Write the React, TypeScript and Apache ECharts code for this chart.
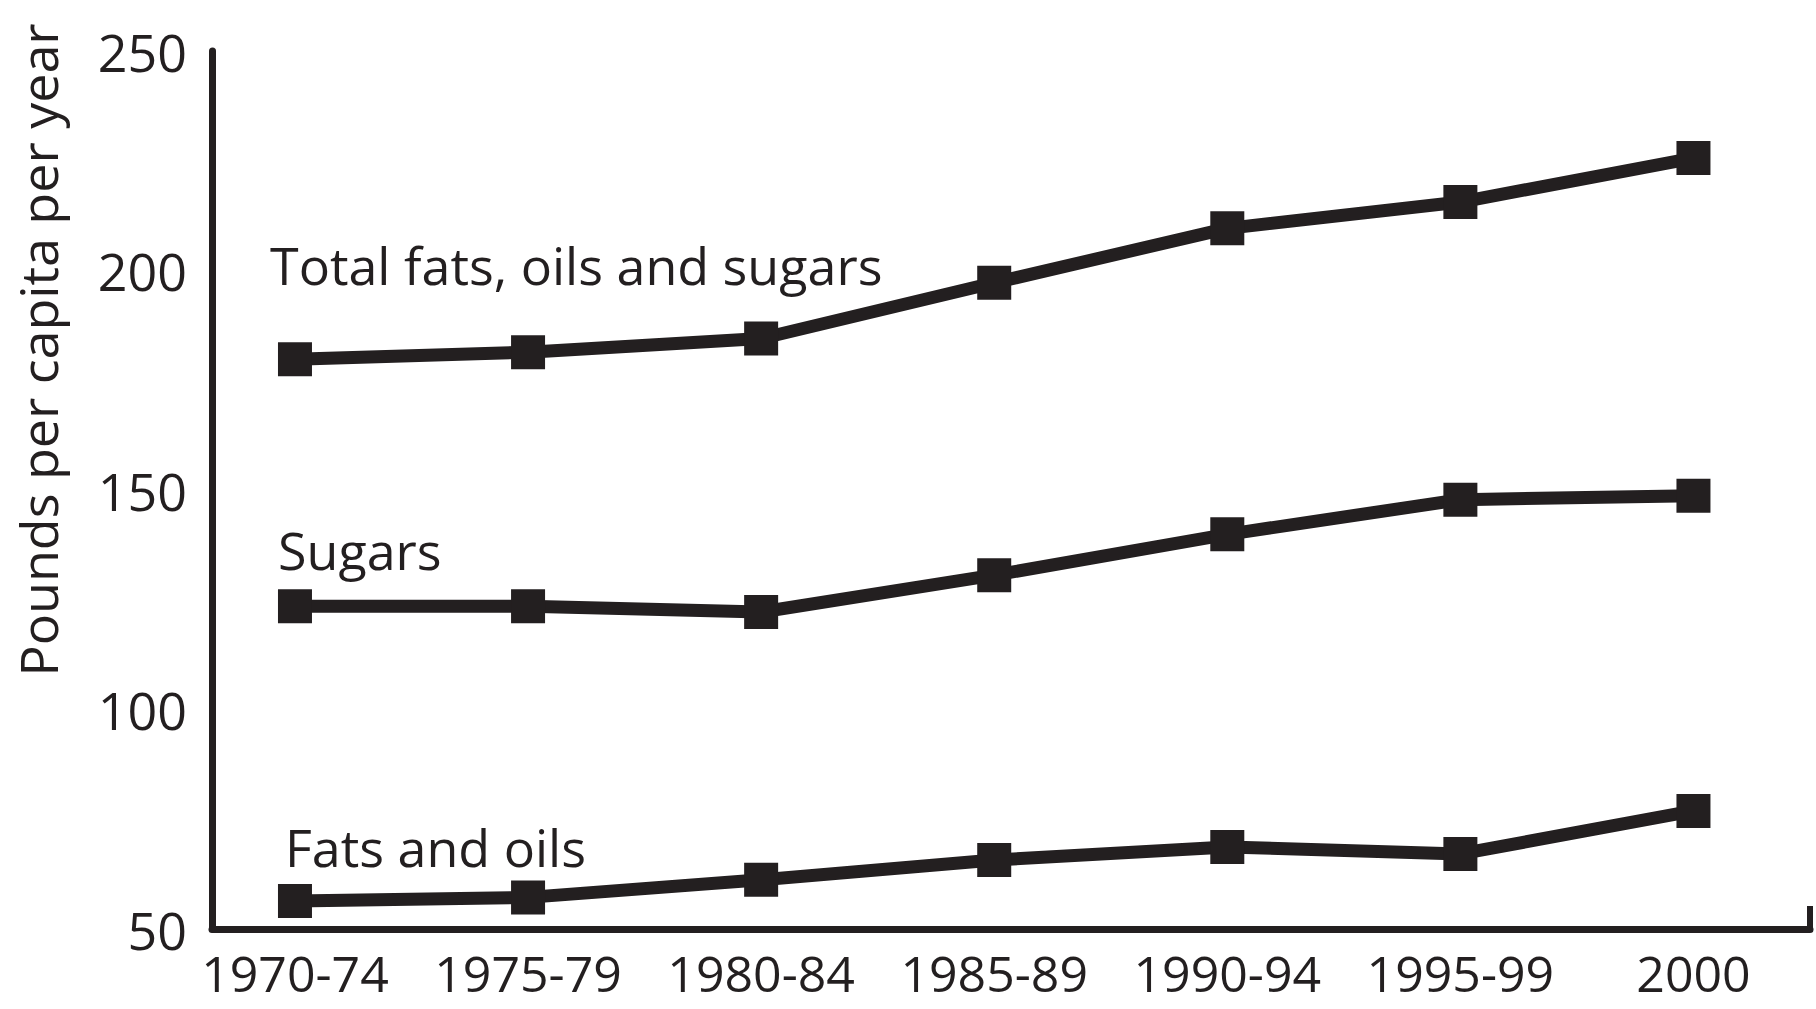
import React, { useEffect, useRef } from "react";
import * as echarts from "echarts";

const categories = ["1970-74", "1975-79", "1980-84", "1985-89", "1990-94", "1995-99", "2000"];
const totalFatsOilsSugars = [179.8, 181.4, 184.5, 197.2, 209.6, 215.6, 225.6];
const sugars = [123.5, 123.5, 122.2, 130.6, 139.9, 147.8, 148.7];
const fatsAndOils = [56.4, 57.2, 61.2, 65.7, 68.7, 67.1, 76.9];
const yTicks = { min: 50, max: 250, interval: 50 };
const yAxisTitle = "Pounds per capita per year";
const seriesNames = ["Total fats, oils and sugars", "Sugars", "Fats and oils"];

const INK = "#231f20";
const FONT = "'Open Sans', 'Noto Sans', sans-serif";

export default function App() {
  const ref = useRef<HTMLDivElement>(null);

  useEffect(() => {
    if (!ref.current) return;
    const chart = echarts.init(ref.current, undefined, { renderer: "svg" });
    const toPairs = (arr: number[]) => arr.map((v, i) => [i, v]);
    const lineSeries = (name: string, arr: number[]) => ({
      name,
      type: "line",
      data: toPairs(arr),
      symbol: "rect",
      symbolSize: 34,
      showAllSymbol: true,
      itemStyle: { color: INK },
      lineStyle: { color: INK, width: 13 },
      z: 3,
    });

    chart.setOption({
      animation: false,
      backgroundColor: "#ffffff",
      grid: { left: 212, right: 6, top: 51, bottom: 80, containLabel: false },
      xAxis: {
        type: "value",
        min: -0.356,
        max: 6.5,
        splitLine: { show: false },
        axisTick: { show: false },
        axisLine: { show: true, onZero: false, lineStyle: { color: INK, width: 7 } },
        axisLabel: {
          customValues: categories.map((_, i) => i),
          formatter: (v: number) => categories[Math.round(v)] ?? "",
          color: INK,
          fontFamily: FONT,
          fontSize: 50,
          lineHeight: 40,
          margin: 24,
        },
      },
      yAxis: {
        type: "value",
        min: yTicks.min,
        max: yTicks.max,
        interval: yTicks.interval,
        splitLine: { show: false },
        axisTick: { show: false },
        axisLine: { show: true, onZero: false, lineStyle: { color: INK, width: 7 } },
        axisLabel: {
          color: INK,
          fontFamily: FONT,
          fontSize: 52,
          margin: 25,
        },
      },
      series: [
        lineSeries(seriesNames[0], totalFatsOilsSugars),
        lineSeries(seriesNames[1], sugars),
        lineSeries(seriesNames[2], fatsAndOils),
      ],
      graphic: [
        {
          type: "text",
          x: 37,
          y: 350,
          rotation: Math.PI / 2,
          style: {
            text: yAxisTitle,
            fill: INK,
            font: `52px ${FONT}`,
            align: "center",
            verticalAlign: "middle",
          },
        },
        {
          type: "text",
          x: 270,
          y: 264,
          style: { text: seriesNames[0], fill: INK, font: `52px ${FONT}`, align: "left", verticalAlign: "middle" },
        },
        {
          type: "text",
          x: 278,
          y: 549,
          style: { text: seriesNames[1], fill: INK, font: `52px ${FONT}`, align: "left", verticalAlign: "middle" },
        },
        {
          type: "text",
          x: 285,
          y: 846,
          style: { text: seriesNames[2], fill: INK, font: `52px ${FONT}`, align: "left", verticalAlign: "middle" },
        },
        {
          type: "line",
          shape: { x1: 1810, y1: 906, x2: 1810, y2: 932 },
          style: { stroke: INK, lineWidth: 6 },
        },
      ],
    });
    return () => chart.dispose();
  }, []);

  return (
    <div
      ref={ref}
      style={{ position: "fixed", left: 0, top: 0, width: 1816, height: 1009, background: "#fff" }}
    />
  );
}
